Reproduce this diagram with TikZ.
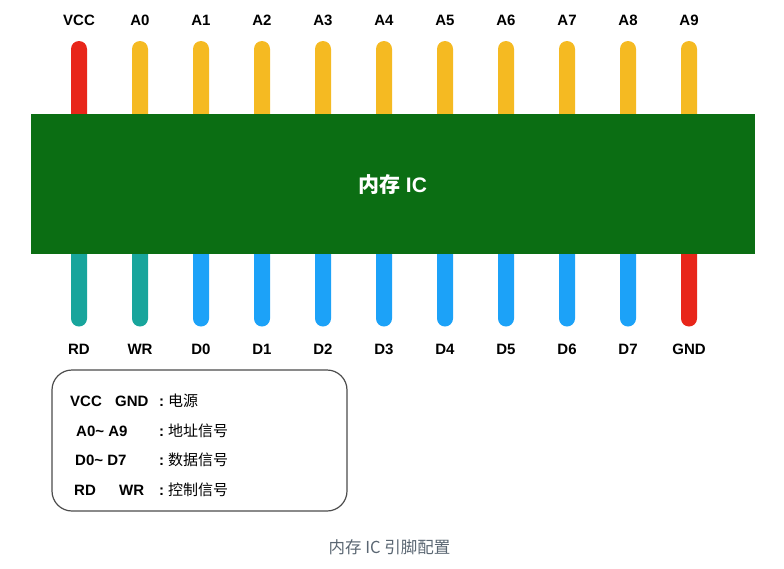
\documentclass[tikz,border=0pt]{standalone}
\usepackage{fontspec}
\setmainfont{Liberation Sans}
\newfontfamily\cjk{Noto Sans CJK SC}
\definecolor{pinred}{HTML}{E8261A}
\definecolor{pinyellow}{HTML}{F5BA22}
\definecolor{pinteal}{HTML}{18A59C}
\definecolor{pinblue}{HTML}{1CA2F8}
\definecolor{chipgreen}{HTML}{0B6E13}
\definecolor{captiongray}{HTML}{5A6672}
\begin{document}
\begin{tikzpicture}[x=1pt,y=-1pt,
  pin/.style={rectangle, minimum width=16pt, minimum height=81pt, rounded corners=8pt, inner sep=0pt, draw=none, fill=#1},
  pinlabel/.style={font=\fontsize{15}{17}\selectfont\bfseries, inner sep=0pt, anchor=base},
  legtext/.style={font=\fontsize{15}{17}\selectfont\bfseries, inner sep=0pt, anchor=base west},
  legcjk/.style={font=\fontsize{15}{17}\selectfont\cjk, inner sep=0pt, anchor=base west}]
\useasboundingbox (0,0) rectangle (784,568);
% top pins
\foreach \i/\c/\t in {0/pinred/VCC,1/pinyellow/A0,2/pinyellow/A1,3/pinyellow/A2,4/pinyellow/A3,5/pinyellow/A4,6/pinyellow/A5,7/pinyellow/A6,8/pinyellow/A7,9/pinyellow/A8,10/pinyellow/A9}{
  \node[pin=\c] (tp\i) at ({79+61*\i},81.5) {};
  \node[pinlabel] (tl\i) at ({79+61*\i},25.5) {\t};
}
% bottom pins
\foreach \i/\c/\t in {0/pinteal/RD,1/pinteal/WR,2/pinblue/D0,3/pinblue/D1,4/pinblue/D2,5/pinblue/D3,6/pinblue/D4,7/pinblue/D5,8/pinblue/D6,9/pinblue/D7,10/pinred/GND}{
  \node[pin=\c] (bp\i) at ({79+61*\i},286) {};
  \node[pinlabel] (bl\i) at ({79+61*\i},354.5) {\t};
}
% chip body
\node[rectangle, fill=chipgreen, draw=none, minimum width=724pt, minimum height=140pt, inner sep=0pt] (chip) at (393,184) {};
\node[font=\fontsize{21}{24}\selectfont\bfseries, text=white, inner sep=0pt] (chiplabel) at (392.5,185) {{\cjk\bfseries 内存} IC};
% legend box
\node[rectangle, draw=black!70, line width=1.2pt, rounded corners=20pt, minimum width=295pt, minimum height=141pt, inner sep=0pt] (legend) at (199.5,440.5) {};
\node[legtext] (l1a) at (70,406.5) {VCC};
\node[legtext] (l1b) at (115,406.5) {GND};
\node[legtext] (l1c) at (159,406.5) {:};
\node[legcjk] (l1d) at (168,406.5) {电源};
\node[legtext] (l2a) at (76,436) {A0\char`\~{} A9};
\node[legtext] (l2c) at (159,436) {:};
\node[legcjk] (l2d) at (168,436) {地址信号};
\node[legtext] (l3a) at (75,465.5) {D0\char`\~{} D7};
\node[legtext] (l3c) at (159,465.5) {:};
\node[legcjk] (l3d) at (168,465.5) {数据信号};
\node[legtext] (l4a) at (74,495) {RD};
\node[legtext] (l4b) at (119,495) {WR};
\node[legtext] (l4c) at (159,495) {:};
\node[legcjk] (l4d) at (168,495) {控制信号};
% caption
\node[font=\fontsize{16.5}{19}\selectfont\cjk, text=captiongray, inner sep=0pt] (caption) at (389.5,547) {内存 IC 引脚配置};
\end{tikzpicture}
\end{document}
